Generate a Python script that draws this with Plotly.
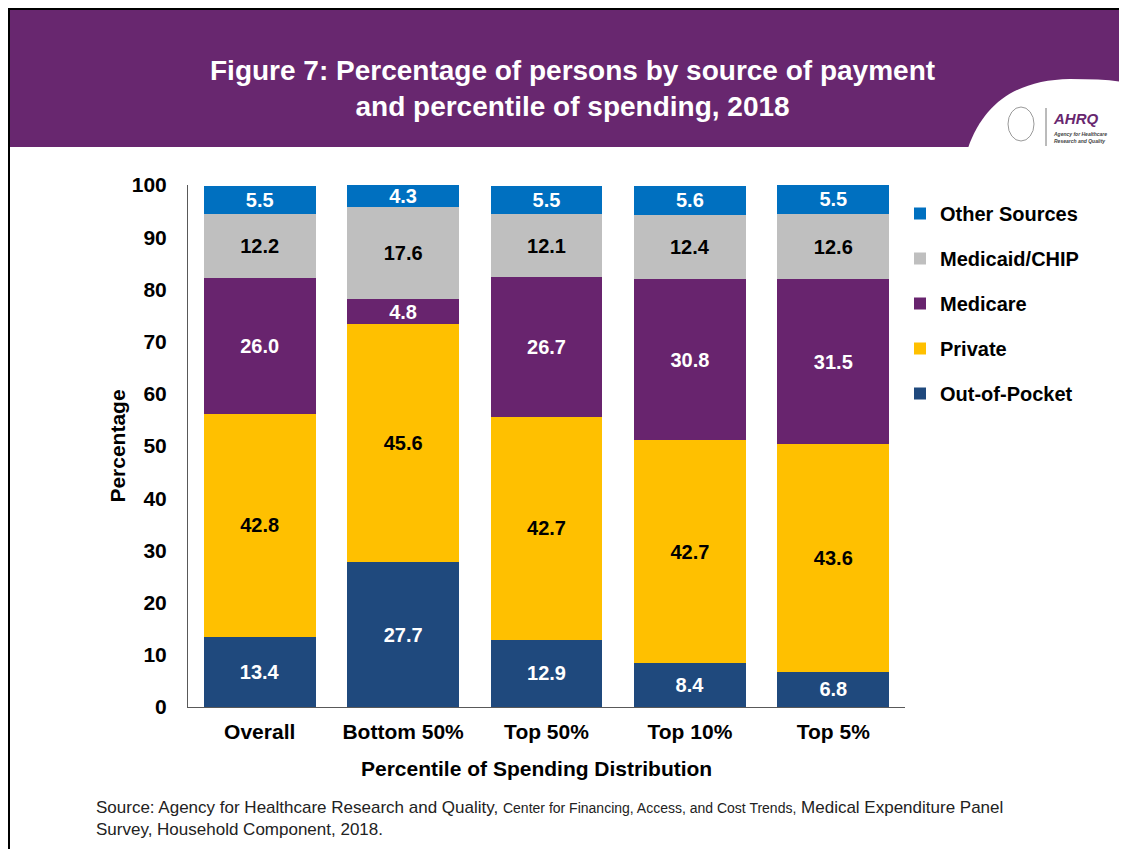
"""
Figure 7: persons by source of payment and percentile of spending (stacked bars)
"""
import plotly.graph_objects as go

# data
categories = ['Overall', 'Bottom 50%', 'Top 50%', 'Top 10%', 'Top 5%']
out_of_pocket = [13.4, 27.7, 12.9, 8.4, 6.8]
private = [42.8, 45.6, 42.7, 42.7, 43.6]
medicare = [26.0, 4.8, 26.7, 30.8, 31.5]
medicaid_chip = [12.2, 17.6, 12.1, 12.4, 12.6]
other_sources = [5.5, 4.3, 5.5, 5.6, 5.5]
y_ticks = [0, 10, 20, 30, 40, 50, 60, 70, 80, 90, 100]

# page has an 8px body margin, so the figure is a bit smaller than the window
OFF = 8
W, H = 1127 - OFF, 849 - OFF
FONT = 'Liberation Sans, Arial, sans-serif'
PURPLE = '#68276F'

# (name, values, bar colour, label colour, legend rank)
series = [
    ('Out-of-Pocket', out_of_pocket, '#1F497D', 'white', 5),
    ('Private', private, '#FFC000', 'black', 4),
    ('Medicare', medicare, '#68246E', 'white', 3),
    ('Medicaid/CHIP', medicaid_chip, '#BFBFBF', 'black', 2),
    ('Other Sources', other_sources, '#0070C0', 'white', 1),
]

fig = go.Figure()

for name, vals, color, txtcolor, rank in series:
    fig.add_trace(go.Bar(
        x=categories,
        y=vals,
        name=name,
        legendgroup=name,
        legendrank=rank,
        marker=dict(color=color, line=dict(width=0)),
        text=[f'{v:.1f}' for v in vals],
        textposition='inside',
        insidetextanchor='middle',
        textangle=0,
        textfont=dict(family=FONT, size=20, color=txtcolor, weight='bold'),
        hovertemplate='%{x}<br>' + name + ': %{y:.1f}%<extra></extra>'
    ))


# convert window pixels to paper fractions
def px_x(p):
    return (p - OFF) / W


def px_y(p):
    return 1 - (p - OFF) / H


swoosh = (f'M {px_x(968)},{px_y(148)} '
          f'C {px_x(985)},{px_y(100)} {px_x(1020)},{px_y(80)} {px_x(1070)},{px_y(79)} '
          f'Q {px_x(1110)},{px_y(79)} {px_x(1128)},{px_y(83)} '
          f'L {px_x(1128)},{px_y(148)} Z')

shapes = [
    # purple header band
    dict(type='rect', xref='paper', yref='paper', x0=0, x1=1.0,
         y0=px_y(147), y1=1.0, fillcolor=PURPLE, line=dict(width=0), layer='below'),
    # white swoosh behind the logo
    dict(type='path', xref='paper', yref='paper', path=swoosh,
         fillcolor='white', line=dict(width=0), layer='below'),
    # slide frame (left and top)
    dict(type='line', xref='paper', yref='paper', x0=px_x(9), x1=px_x(9),
         y0=0, y1=1.0, line=dict(color='black', width=2)),
    dict(type='line', xref='paper', yref='paper', x0=0, x1=1.0,
         y0=px_y(9), y1=px_y(9), line=dict(color='black', width=2)),
    # logo bits
    dict(type='circle', xref='paper', yref='paper', x0=px_x(1008), x1=px_x(1034),
         y0=px_y(141), y1=px_y(107), line=dict(color='#9A9A9A', width=1)),
    dict(type='line', xref='paper', yref='paper', x0=px_x(1046), x1=px_x(1046),
         y0=px_y(146), y1=px_y(108), line=dict(color='#777777', width=1)),
]

annotations = [
    dict(text='Figure 7: Percentage of persons by source of payment<br>'
              'and percentile of spending, 2018',
         xref='paper', yref='paper', x=px_x(572), y=px_y(89), showarrow=False,
         xanchor='center', yanchor='middle', align='center',
         font=dict(family=FONT, size=28, color='white', weight='bold')),
    dict(text='<i><b>AHRQ</b></i>', xref='paper', yref='paper',
         x=px_x(1051), y=px_y(119), showarrow=False, xanchor='left', yanchor='middle',
         font=dict(family=FONT, size=15, color=PURPLE)),
    dict(text='<i><b>Agency for Healthcare<br>Research and Quality</b></i>',
         xref='paper', yref='paper', x=px_x(1051), y=px_y(138), showarrow=False,
         xanchor='left', yanchor='middle', align='left',
         font=dict(family=FONT, size=5, color='#444444')),
    dict(text='Percentile of Spending Distribution', xref='paper', yref='paper',
         x=px_x(536), y=px_y(768), showarrow=False, xanchor='center', yanchor='middle',
         font=dict(family=FONT, size=21, color='black', weight='bold')),
    dict(text='Source: Agency for Healthcare Research and Quality, '
              '<span style="font-size:14px">Center for Financing, Access, and Cost Trends,</span> '
              'Medical Expenditure Panel<br>Survey, Household Component, 2018.',
         xref='paper', yref='paper', x=px_x(94), y=px_y(818), showarrow=False,
         xanchor='left', yanchor='middle', align='left',
         font=dict(family='Liberation Sans Narrow, Liberation Sans, Arial', size=17,
                   color='#222222')),
]

fig.update_layout(
    width=W,
    height=H,
    margin=dict(l=0, r=0, t=0, b=0, pad=0, autoexpand=False),
    paper_bgcolor='white',
    plot_bgcolor='white',
    barmode='stack',
    bargap=0.22,
    font=dict(family=FONT, color='black'),
    uniformtext=dict(minsize=20, mode='show'),
    showlegend=True,
    legend=dict(
        x=px_x(900), y=px_y(194), xanchor='left', yanchor='top',
        traceorder='grouped',
        tracegroupgap=16,
        font=dict(family=FONT, size=20, color='black', weight='bold'),
        itemwidth=30,
        bgcolor='rgba(0,0,0,0)',
    ),
    xaxis=dict(
        domain=[px_x(188), px_x(905)],
        range=[-0.5, 4.5],
        showline=True, linecolor='#595959', linewidth=1,
        showgrid=False, zeroline=False, ticks='',
        ticklabelstandoff=6,
        tickfont=dict(family=FONT, size=21, color='black', weight='bold'),
    ),
    yaxis=dict(
        domain=[px_y(707), px_y(185)],
        range=[0, 100],
        tickvals=y_ticks,
        showline=True, linecolor='#595959', linewidth=1,
        showgrid=False, zeroline=False, ticks='',
        ticklabelstandoff=16,
        tickfont=dict(family=FONT, size=21, color='black', weight='bold'),
        title=dict(text='Percentage', standoff=0,
                   font=dict(family=FONT, size=21, color='black', weight='bold')),
    ),
    shapes=shapes,
    annotations=annotations,
)

fig.write_html("out.html")
